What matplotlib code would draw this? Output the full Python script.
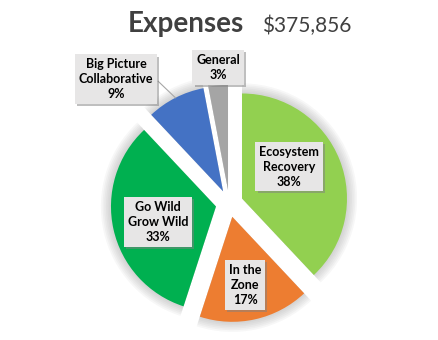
import matplotlib
matplotlib.use("Agg")
import matplotlib.pyplot as plt
import matplotlib.patheffects as pe
import numpy as np

plt.rcParams['font.family'] = ['Lato', 'DejaVu Sans']

# data
categories = ["Ecosystem\nRecovery", "In the\nZone", "Go Wild\nGrow Wild",
              "Big Picture\nCollaborative", "General"]
shares = [38, 17, 33, 9, 3]
total = "$375,856"
colors = ["#92D050", "#ED7D31", "#00B050", "#4472C4", "#A5A5A5"]

# label layout: (radius, angle in degrees) in pie units
label_pos = [(0.67, 31.7), (0.79, -79.0), (0.70, -165.5), (1.60, 132.3), (1.30, 94.7)]

W, H = 439, 340
fig = plt.figure(figsize=(W / 100, H / 100), dpi=100)

# pie centre and radius in pixels
cx, cy, rpx = 229.3, 203.5, 105
half = 170
ax = fig.add_axes([(cx - half) / W, (H - cy - half) / H, 2 * half / W, 2 * half / H])
ax.axis("off")

explode = [0.13] * len(shares)

# soft halo around slices
for k in range(6, 0, -1):
    ax.pie(shares, explode=explode, startangle=90, counterclock=False,
           radius=1.0 + 0.016 * k, colors=["#7f7f7f"] * len(shares),
           wedgeprops=dict(alpha=0.06, linewidth=0))

wedges, _ = ax.pie(shares, explode=explode, startangle=90, counterclock=False,
                   colors=colors, wedgeprops=dict(linewidth=0))

ax.set_xlim(-half / rpx, half / rpx)
ax.set_ylim(-half / rpx, half / rpx)
ax.set_aspect("equal")

for i, (lab, val) in enumerate(zip(categories, shares)):
    r, a = label_pos[i]
    x, y = r * np.cos(np.radians(a)), r * np.sin(np.radians(a))
    t = ax.text(x, y, f"{lab}\n{val}%", ha="center", va="center",
                fontsize=9, fontweight="bold", color="black", linespacing=1.3,
                bbox=dict(boxstyle="square,pad=0.3", fc="#E7E6E6", ec="none"),
                zorder=5)
    t.get_bbox_patch().set_path_effects([
        pe.withSimplePatchShadow(offset=(1.5, -1.5), shadow_rgbFace="#808080", alpha=0.5)])

# leader line for Big Picture
th1 = 90 - 360 * sum(shares[:3]) / 100
th2 = th1 - 360 * shares[3] / 100
mid = np.radians((th1 + th2) / 2)
ex, ey = 0.13 * np.cos(mid), 0.13 * np.sin(mid)
px, py = ex + 1.0 * np.cos(mid), ey + 1.0 * np.sin(mid)
bx = label_pos[3][0] * np.cos(np.radians(label_pos[3][1])) + 0.40
by = label_pos[3][0] * np.sin(np.radians(label_pos[3][1])) - 0.02
ax.plot([bx, px], [by, py], color="#A6A6A6", linewidth=0.8, zorder=4)

fig.text(128 / W, (H - 32) / H, "Expenses", fontsize=20, fontweight="bold",
         color="#404040", ha="left", va="baseline")
fig.text(262 / W, (H - 32) / H, total, fontsize=15, color="#404040",
         ha="left", va="baseline")

fig.savefig("out.png", dpi=100, facecolor="white")
